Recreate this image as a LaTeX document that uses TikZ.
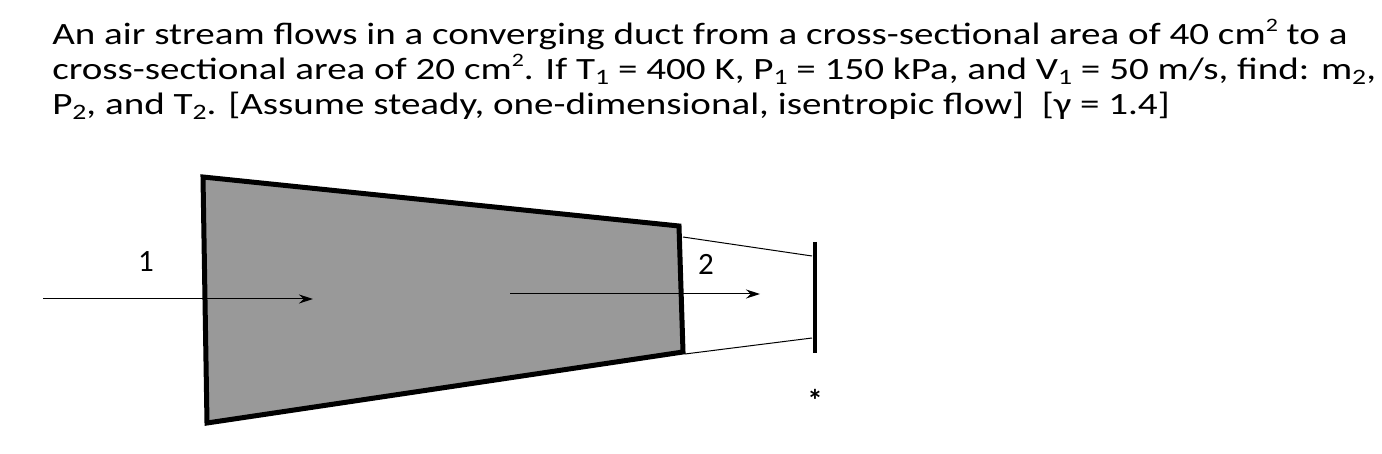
\documentclass[tikz,border=0pt]{standalone}
\usepackage{fontspec}
\setmainfont{Carlito}
\usetikzlibrary{arrows.meta}
\newcommand{\supx}[1]{\raisebox{0.45em}{\fontsize{19}{19}\selectfont #1}}
\newcommand{\subx}[1]{\raisebox{-0.15em}{\fontsize{22}{22}\selectfont #1}}
\begin{document}
\begin{tikzpicture}[x=1pt,y=-1pt,
  txt/.style={anchor=base west,inner sep=0,font=\fontsize{31}{35}\selectfont,xscale=1.26,transform shape},
  lbl/.style={font=\fontsize{31}{35}\selectfont,inner sep=0},
  arr/.style={-{Stealth[length=14pt,width=9pt]},line width=1pt}]
\useasboundingbox (0,0) rectangle (1382,454);
\node[txt] (l1) at (52,45) {An air stream flows in a converging duct from a cross-sectional area of 40 cm\supx{2} to a};
\node[txt] (l2) at (52,80) {cross-sectional area of 20 cm\supx{2}. If T\subx{1} = 400 K, P\subx{1} = 150 kPa, and V\subx{1} = 50 m/s, find: m\subx{2},};
\node[txt] (l3) at (52,115) {P\subx{2}, and T\subx{2}. [Assume steady, one-dimensional, isentropic flow]\ \ [γ = 1.4]};
\draw[line width=5pt,fill={rgb,255:red,153;green,153;blue,153},line join=miter]
  (203,177) -- (679,226) -- (683,352) -- (207,423) -- cycle;
\coordinate (t1) at (683,237); \coordinate (t2) at (812,256);
\coordinate (b1) at (685,354); \coordinate (b2) at (812,338);
\draw[line width=1pt] (t1) -- (t2) (b1) -- (b2);
\coordinate (v1) at (815,242); \coordinate (v2) at (815,353);
\draw[line width=4pt] (v1) -- (v2);
\node[lbl,font=\fontsize{31}{35}\bfseries] (star) at (815,400) {*};
\node[lbl] (n1) at (146,262) {1};
\node[lbl] (n2) at (706,264) {2};
\coordinate (a1s) at (43,299); \coordinate (a1e) at (313,299);
\coordinate (a2s) at (510,294); \coordinate (a2e) at (760,294);
\draw[arr] (a1s) -- (a1e);
\draw[arr] (a2s) -- (a2e);
\end{tikzpicture}
\end{document}
